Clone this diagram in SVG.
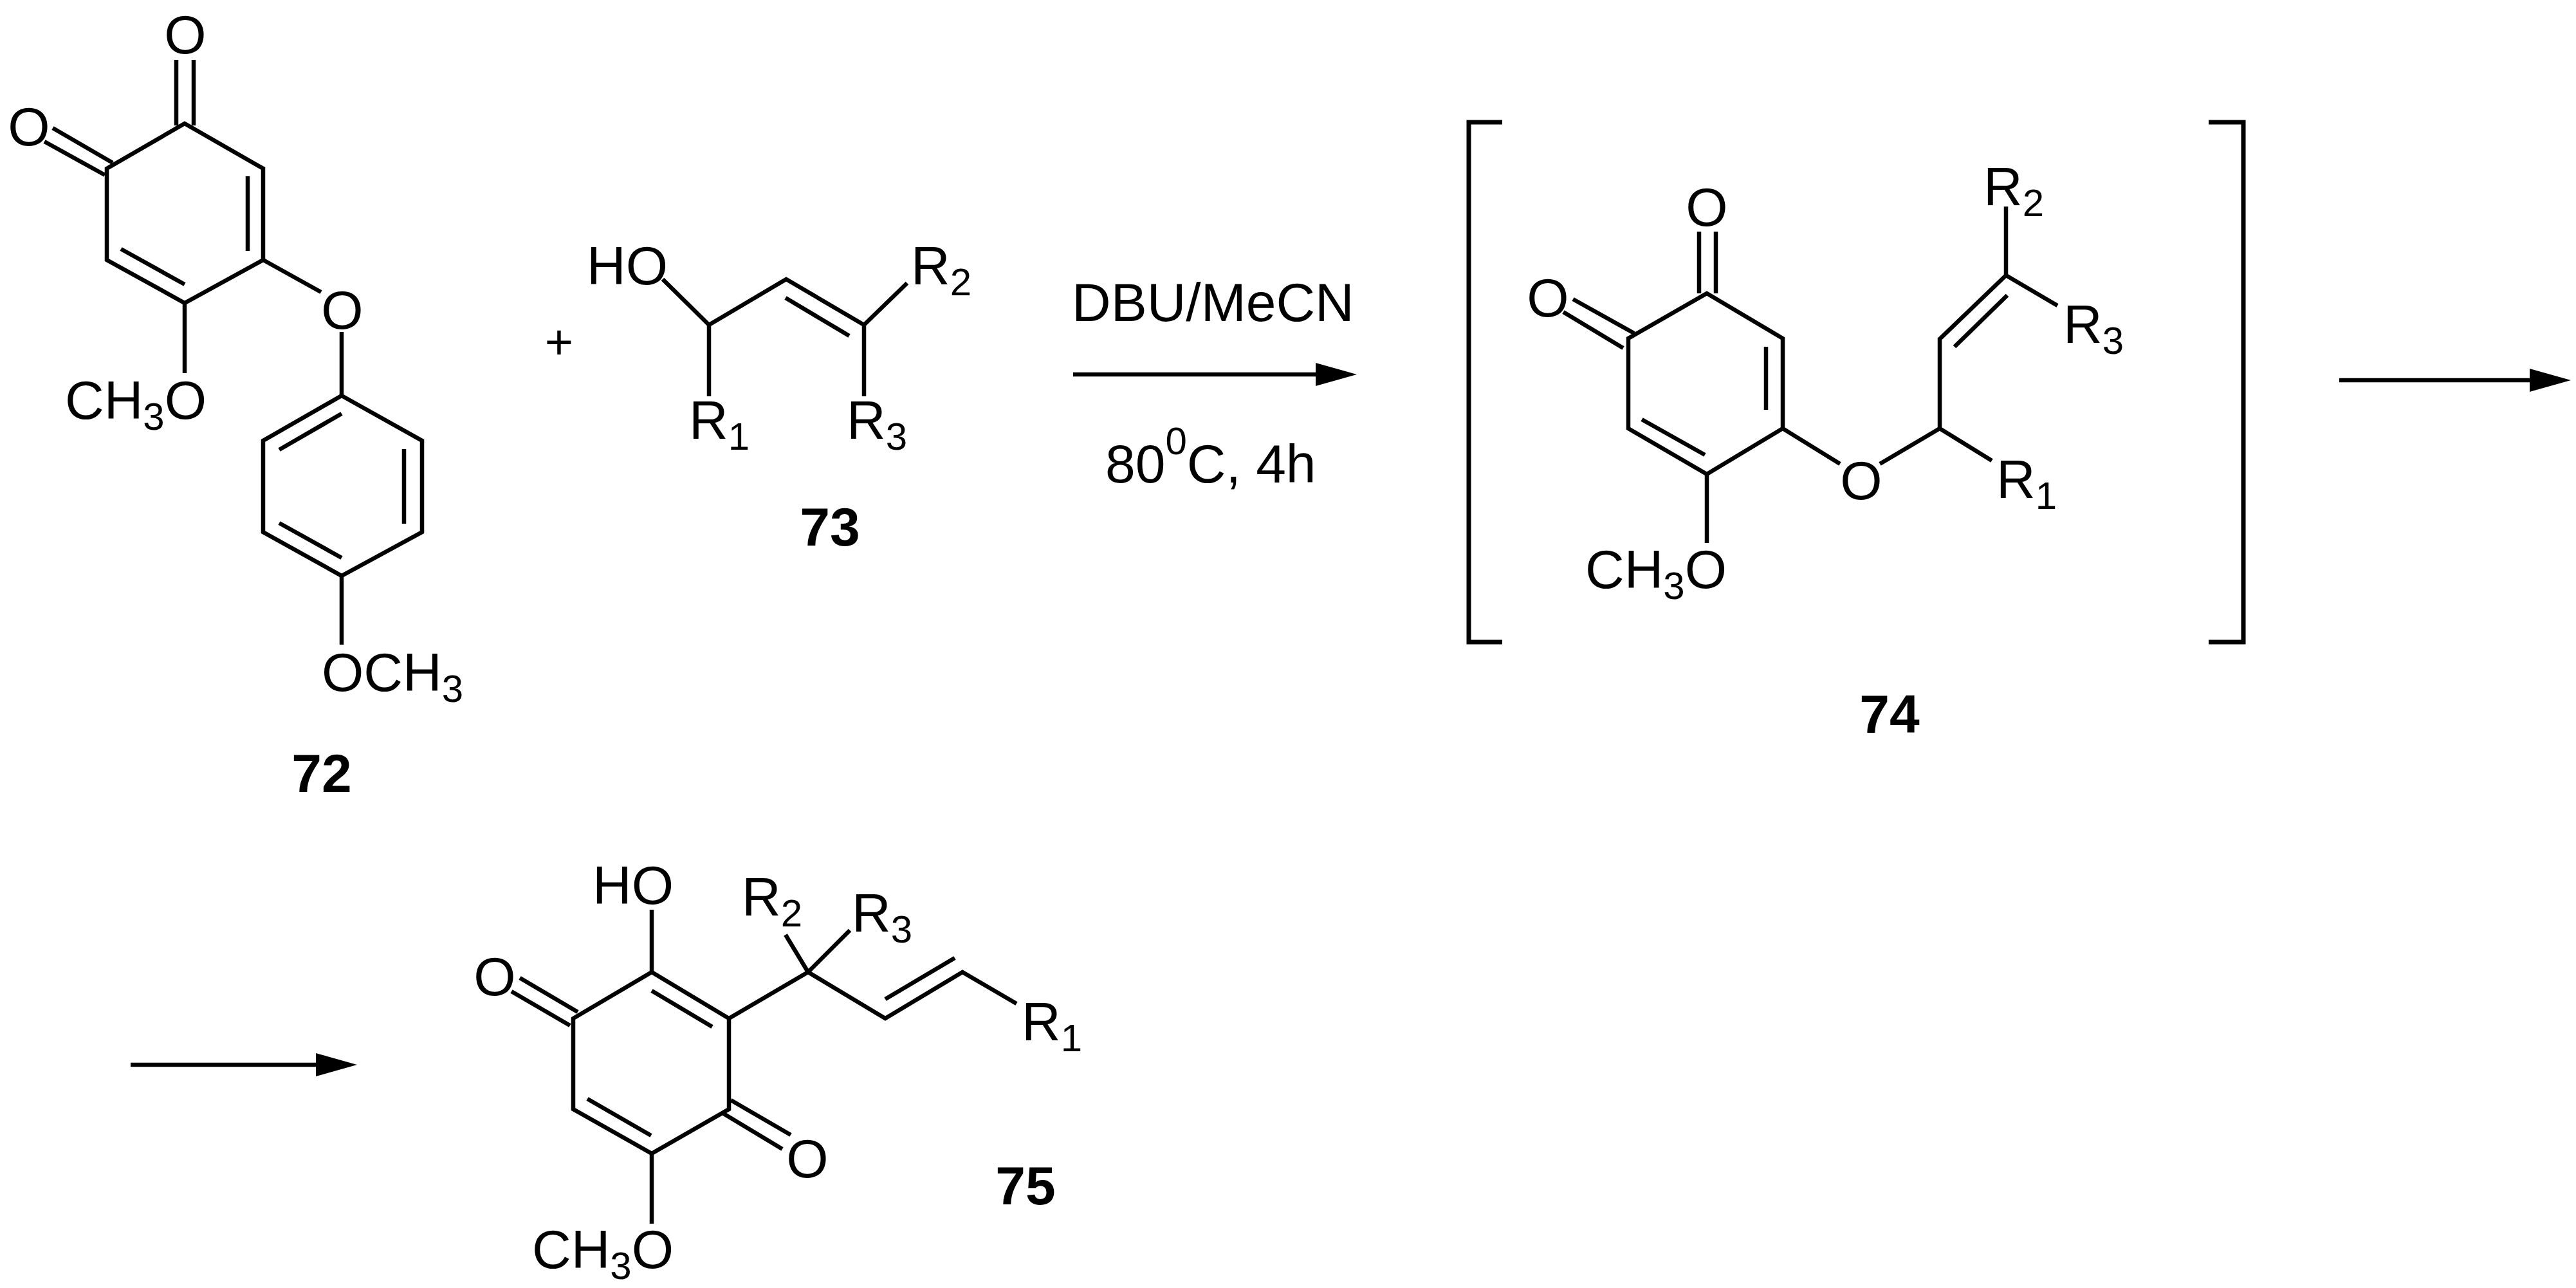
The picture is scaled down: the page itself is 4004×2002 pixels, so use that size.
<svg xmlns="http://www.w3.org/2000/svg" width="4004" height="2002" viewBox="0 0 4004 2002">
<style>
text{font-family:"Liberation Sans",Arial,sans-serif;font-size:84px;fill:#000}
.s{font-size:60px}
.b{font-weight:bold}
.bond{fill:none;stroke:#000;stroke-width:6.5;stroke-linejoin:miter;stroke-linecap:butt}
.arrow{fill:none;stroke:#000;stroke-width:6.5}
.brk{fill:none;stroke:#000;stroke-width:7}
</style>
<defs>
<marker id="head" markerUnits="userSpaceOnUse" markerWidth="66" markerHeight="40" refX="0" refY="20" orient="auto"><path d="M0,2 L64,20 L0,38 Z" fill="#000"/></marker>
</defs>
<rect width="4004" height="2002" fill="#fff"/>
<g id="connectors">
<path class="arrow" d="M1668,582 H2045" marker-end="url(#head)"/>
<path class="arrow" d="M3636,591 H3932" marker-end="url(#head)"/>
<path class="arrow" d="M203,1655 H491" marker-end="url(#head)"/>
</g>
<g id="compound-72">
<path class="bond" d="M287,192 L409,262 V404 L287,471 L166,404 V262 Z"/>
<path class="bond" d="M385,274 V390 M188,387 L287,442 M274,93 V195 M301,93 V195 M82,199 L175,253 M69,220 L163,272"/>
<path class="bond" d="M287,471 V580 M409,404 L499,454 M531,516 V615"/>
<path class="bond" d="M531,615 L656,685 V827 L531,895 L409,827 V685 Z"/>
<path class="bond" d="M628,698 V814 M434,699 L531,643 M434,813 L531,867 M531,895 V1002"/>
<text x="288" y="83" text-anchor="middle">O</text>
<text x="45" y="226" text-anchor="middle">O</text>
<text x="532" y="511" text-anchor="middle">O</text>
<text x="101" y="651">CH<tspan class="s" dy="17">3</tspan><tspan dy="-17">O</tspan></text>
<text x="500" y="1074">OCH<tspan class="s" dy="17">3</tspan></text>
<text class="b" x="500" y="1231" text-anchor="middle">72</text>
</g>
<g id="plus"><text x="869" y="558" text-anchor="middle" style="font-size:76px">+</text></g>
<g id="compound-73">
<path class="bond" d="M1030,434 L1102,505 L1222,434 L1343,505 L1410,440 M1221,463 L1320,522 M1102,505 V616 M1343,505 V616"/>
<text x="912" y="442">HO</text>
<text x="1416" y="442">R<tspan class="s" dy="17">2</tspan></text>
<text x="1071" y="682">R<tspan class="s" dy="17">1</tspan></text>
<text x="1316" y="682">R<tspan class="s" dy="17">3</tspan></text>
<text class="b" x="1290" y="848" text-anchor="middle">73</text>
</g>
<g id="conditions">
<text x="1666" y="499">DBU/MeCN</text>
<text x="1718" y="750">80<tspan class="s" dy="-44">0</tspan><tspan dy="44">C, 4h</tspan></text>
</g>
<g id="compound-74">
<path class="brk" d="M2335,190 H2283 V998 H2335 M3433,190 H3487 V998 H3433"/>
<path class="bond" d="M2653,456 L2771,526 V666 L2653,737 L2531,666 V526 Z"/>
<path class="bond" d="M2745,539 V637 M2552,652 L2650,707 M2641,360 V456 M2667,360 V456 M2445,465 L2540,518 M2430,485 L2523,541 M2653,737 V844"/>
<path class="bond" d="M2771,666 L2860,721 M2922,721 L3015,666 L3096,716 M3015,666 V527 L3118,428 L3198,475 M3038,539 L3120,459 M3118,428 V321"/>
<text x="2653" y="351" text-anchor="middle">O</text>
<text x="2406" y="492" text-anchor="middle">O</text>
<text x="2893" y="776" text-anchor="middle">O</text>
<text x="2464" y="914">CH<tspan class="s" dy="17">3</tspan><tspan dy="-17">O</tspan></text>
<text x="3083" y="319">R<tspan class="s" dy="17">2</tspan></text>
<text x="3207" y="533">R<tspan class="s" dy="17">3</tspan></text>
<text x="3103" y="774">R<tspan class="s" dy="17">1</tspan></text>
<text class="b" x="2937" y="1139" text-anchor="middle">74</text>
</g>
<g id="compound-75">
<path class="bond" d="M1013,1511 L1133,1583 V1724 L1013,1793 L891,1724 V1583 Z"/>
<path class="bond" d="M1013,1540 L1107,1596 M913,1708 L1012,1765 M1013,1511 V1414 M808,1520 L898,1573 M795,1541 L886,1594 M1136,1710 L1229,1764 M1123,1730 L1216,1786 M1013,1793 V1902"/>
<path class="bond" d="M1133,1583 L1256,1511 L1376,1583 L1496,1511 L1580,1560 M1376,1553 L1484,1489 M1256,1511 L1221,1453 M1256,1511 L1321,1446"/>
<text x="921" y="1405">HO</text>
<text x="769" y="1547" text-anchor="middle">O</text>
<text x="1255" y="1830" text-anchor="middle">O</text>
<text x="1153" y="1423">R<tspan class="s" dy="17">2</tspan></text>
<text x="1324" y="1448">R<tspan class="s" dy="17">3</tspan></text>
<text x="1588" y="1617">R<tspan class="s" dy="17">1</tspan></text>
<text x="827" y="1971">CH<tspan class="s" dy="17">3</tspan><tspan dy="-17">O</tspan></text>
<text class="b" x="1594" y="1872" text-anchor="middle">75</text>
</g>
</svg>
